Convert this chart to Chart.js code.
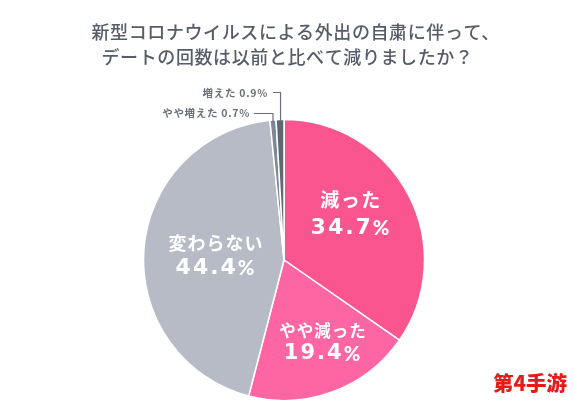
<!DOCTYPE html>
<html><head><meta charset="utf-8">
<style>html,body{margin:0;padding:0;background:#fff}#w{position:relative;width:574px;height:402px;overflow:hidden}canvas{display:block}</style>
<script src="https://cdn.jsdelivr.net/npm/chart.js@4"></script></head>
<body><div id="w"><canvas id="c" width="574" height="402"></canvas></div>
<script>
const titleLines = ['新型コロナウイルスによる外出の自粛に伴って、','デートの回数は以前と比べて減りましたか？'];
const categories = ['減った','やや減った','変わらない','やや増えた','増えた'];
const values = [34.7,19.4,44.4,0.7,0.9];
const colors = ['#fb5590','#fd66a3','#b6bbc6','#7f8995','#5d6873'];
const watermark = '第4手游';
const JP = '"Noto Sans CJK JP","Noto Sans",sans-serif';

const labels = {
  id:'labels',
  afterDraw(chart){
    const ctx = chart.ctx, arcs = chart.getDatasetMeta(0).data;
    ctx.save();
    // title
    ctx.textBaseline='middle'; ctx.textAlign='left'; ctx.fillStyle='#565c68';
    ctx.font='500 18px '+JP; ctx.letterSpacing='0.6px';
    ctx.fillText(titleLines[0],91.5,32);
    ctx.fillText(titleLines[1],101.5,57);
    ctx.fillStyle='#fff';
    const place=[[351,200,351,228,19,1.5],[323,331,323,354,16.5,1],[216,243,216,268,18,1]];
    const mixed=(num,cx,y,fn,fp,sp)=>{
      ctx.letterSpacing=sp+'px';
      ctx.font='bold '+fn+'px "DejaVu Sans"'; const wn=ctx.measureText(num).width;
      ctx.font='900 '+fp+'px Lato'; const wp=ctx.measureText('%').width;
      let x=cx-(wn+wp)/2;
      ctx.textAlign='left';
      ctx.font='bold '+fn+'px "DejaVu Sans"'; ctx.fillText(num,x,y);
      ctx.font='900 '+fp+'px Lato'; ctx.fillText('%',x+wn,y+(fn-fp)*0.36);
    };
    place.forEach((p,i)=>{
      ctx.letterSpacing=p[5]+'px'; ctx.textAlign='center';
      ctx.font='bold '+p[4]+'px '+JP;
      ctx.fillText(categories[i],p[0],p[1]);
      mixed(values[i].toFixed(1),p[2],p[3],i==1?21:22,20,2);
    });
    // small outside labels + leaders
    ctx.fillStyle='#6b7079'; ctx.textAlign='right';
    ctx.letterSpacing='0.7px';
    ctx.font='bold 10.5px '+JP;
    ctx.fillText(categories[4]+' '+values[4]+'%',268,93);
    ctx.fillText(categories[3]+' '+values[3]+'%',250,113);
    ctx.letterSpacing='0px';
    const tip=a=>{const m=(a.startAngle+a.endAngle)/2;return [a.x+Math.cos(m)*a.outerRadius,a.y+Math.sin(m)*a.outerRadius];};
    ctx.strokeStyle='#6b7079'; ctx.lineWidth=1.2;
    let t=tip(arcs[4]);
    ctx.beginPath();ctx.moveTo(273,92.5);ctx.lineTo(t[0]+.5,92.5);ctx.lineTo(t[0]+.5,t[1]+2);ctx.stroke();
    t=tip(arcs[3]);
    ctx.beginPath();ctx.moveTo(254,113.5);ctx.lineTo(t[0],113.5);ctx.lineTo(t[0],t[1]+2);ctx.stroke();
    // watermark
    ctx.font='900 20.5px "Noto Sans CJK SC",sans-serif';
    ctx.textAlign='left';
    ctx.fillStyle='#e31b1b';
    ctx.fillText(watermark,493,383);
    ctx.restore();
  }
};

new Chart(document.getElementById('c'),{
  type:'pie',
  data:{labels:categories,datasets:[{data:values,backgroundColor:colors,borderColor:'#fff',borderWidth:1.5,hoverOffset:0}]},
  options:{
    responsive:false,animation:false,
    rotation:0,
    layout:{padding:{left:142,right:148,top:118.75,bottom:0.75}},
    plugins:{legend:{display:false},tooltip:{enabled:false},title:{display:false}}
  },
  plugins:[labels]
});
</script></body></html>
